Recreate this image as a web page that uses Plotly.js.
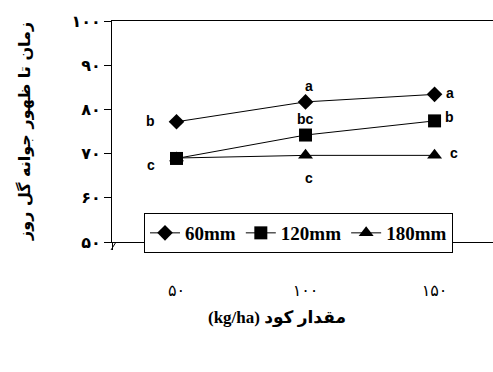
<!DOCTYPE html>
<html>
<head>
<meta charset="utf-8">
<script src="https://cdn.plot.ly/plotly-3.0.1.min.js"></script>
<style>html,body{margin:0;padding:0;background:#fff;}#chart{width:493px;height:372px;}</style>
</head>
<body>
<div id="chart"></div>
<script>
// ---- data ----
const categories = ['۵۰', '۱۰۰', '۱۵۰'];           // fertilizer amount (kg/ha)
const seriesNames = ['60mm', '120mm', '180mm'];
const values60 = [77.2, 81.7, 83.4];
const values120 = [68.9, 74.2, 77.4];
const values180 = [69.0, 69.6, 69.6];
const letters60 = ['b', 'a', 'a'];
const letters120 = ['c', 'bc', 'b'];
const letters180 = ['', 'c', 'c'];
const yTickVals = [50, 60, 70, 80, 90, 100];
const yTickText = ['۵۰', '۶۰', '۷۰', '۸۰', '۹۰', '۱۰۰'];
const xTitle = '(kg/ha) مقدار کود';
const yTitle = 'زمان تا ظهور جوانه گل روز';

// ---- styling ----
const symbols = ['diamond', 'square', 'triangle-up'];
const sizes = [12, 13, 13];
const allValues = [values60, values120, values180];
const allLetters = [letters60, letters120, letters180];
// label placement (pixel offsets) per series / point
const letterOffsets = [
  [[-26, 1], [3, 16], [15, 1]],
  [[-26, -7], [0, 16], [15, 4]],
  [[0, 0], [3, -23], [19, 2]]
];

const traces = allValues.map((vals, i) => ({
  x: categories,
  y: vals,
  name: seriesNames[i],
  type: 'scatter',
  mode: 'lines+markers',
  line: {color: '#000', width: 1},
  marker: {symbol: symbols[i], size: sizes[i], color: '#000'}
}));

const annotations = [];
allLetters.forEach((lets, i) => {
  lets.forEach((t, j) => {
    if (!t) return;
    annotations.push({
      x: categories[j], y: allValues[i][j], xref: 'x', yref: 'y',
      text: t, showarrow: false,
      xshift: letterOffsets[i][j][0], yshift: letterOffsets[i][j][1],
      font: {family: 'Liberation Sans, Arial', size: 14, color: '#000', weight: 'bold'}
    });
  });
});
annotations.push({
  xref: 'paper', yref: 'paper', x: (277 - 112) / 381, y: -(318 - 242) / 221,
  text: xTitle, showarrow: false, xanchor: 'center', yanchor: 'middle',
  font: {family: 'Liberation Serif, DejaVu Sans', size: 17, color: '#000', weight: 'bold'}
});
annotations.push({
  xref: 'paper', yref: 'paper', x: -(112 - 24) / 381, y: (242 - 132) / 221,
  text: yTitle, showarrow: false, textangle: -90, xanchor: 'center', yanchor: 'middle',
  font: {family: 'DejaVu Sans', size: 16, color: '#000', weight: 'bold'}
});

const layout = {
  width: 493, height: 372,
  margin: {l: 112, r: 0, t: 21, b: 130},
  paper_bgcolor: '#fff', plot_bgcolor: '#fff',
  showlegend: true,
  legend: {
    orientation: 'h', x: (144 - 112) / 381, y: (242 - 213) / 221,
    xanchor: 'left', yanchor: 'top',
    bordercolor: '#000', borderwidth: 1, bgcolor: '#fff',
    font: {family: 'Liberation Serif', size: 19, color: '#000', weight: 'bold'},
    itemwidth: 30, tracegroupgap: 0
  },
  xaxis: {
    type: 'category', range: [-0.5, 2.453],
    showline: true, linecolor: '#000', linewidth: 1, mirror: true,
    showgrid: false, zeroline: false,
    ticks: 'outside', tickson: 'boundaries', ticklen: 7, tickcolor: '#000',
    ticklabelstandoff: 34,
    tickfont: {family: 'DejaVu Sans', size: 16, color: '#000'}
  },
  yaxis: {
    range: [50, 100], tickvals: yTickVals, ticktext: yTickText,
    showline: true, linecolor: '#000', linewidth: 1,
    showgrid: false, zeroline: false,
    ticks: 'outside', ticklen: 7, tickcolor: '#000',
    tickfont: {family: 'DejaVu Sans', size: 16, color: '#000', weight: 'bold'}
  },
  shapes: [{
    type: 'line', xref: 'paper', yref: 'paper',
    xsizemode: 'pixel', ysizemode: 'pixel', xanchor: 0, yanchor: 0,
    x0: -1, x1: 4, y0: -8, y1: 0,
    line: {color: '#000', width: 1}
  }],
  annotations: annotations
};

Plotly.newPlot('chart', traces, layout, {displayModeBar: false, staticPlot: true});
</script>
</body>
</html>
